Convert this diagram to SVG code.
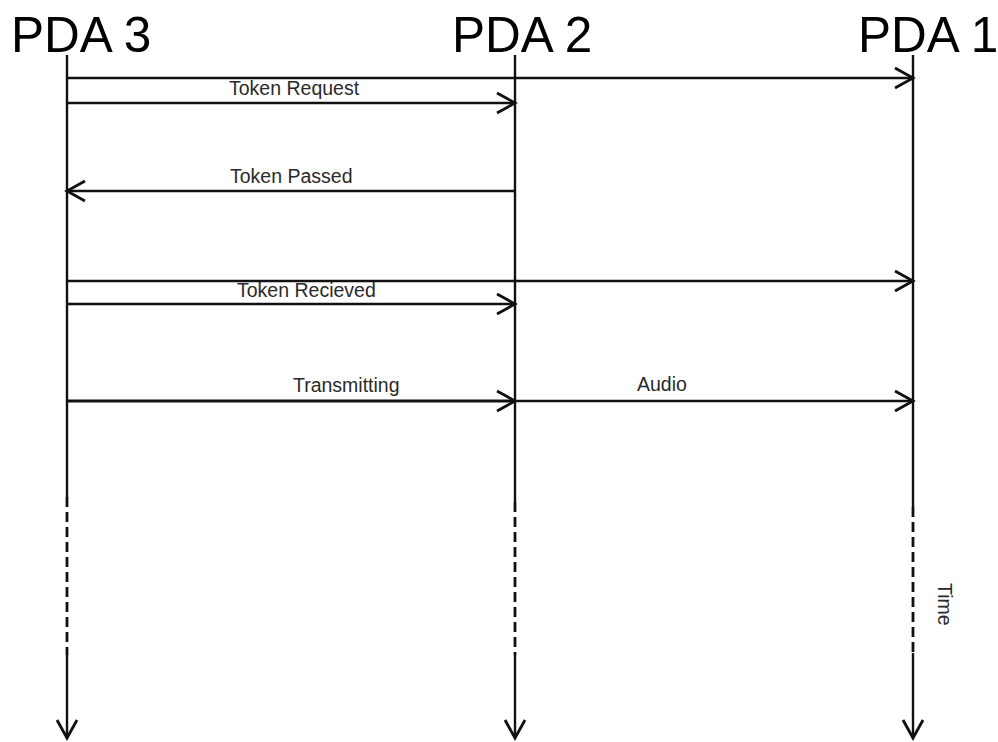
<svg xmlns="http://www.w3.org/2000/svg" width="998" height="742" viewBox="0 0 998 742">
<style>
.title{font-family:"Liberation Sans",Arial,sans-serif;font-size:49.5px;fill:#000}
.lbl{font-family:"Liberation Sans",Arial,sans-serif;font-size:19.5px;fill:#2a2a2a}
.life{stroke:#111;stroke-width:2.4;fill:none}
.dash{stroke:#111;stroke-width:2.8;fill:none;stroke-dasharray:10 5}
.msg{stroke:#111;stroke-width:2.4;fill:none;marker-end:url(#ah)}
.msgb{stroke:#111;stroke-width:3.2;fill:none;marker-end:url(#ah)}
</style>
<defs>
<marker id="ah" markerUnits="userSpaceOnUse" markerWidth="24" markerHeight="24" viewBox="-20 -12 24 24" refX="0" refY="0" orient="auto">
<path d="M-18,-10 L0,0 L-18,10" fill="none" stroke="#111" stroke-width="2.8"/>
</marker>
</defs>
<rect width="998" height="742" fill="#fff"/>
<g id="pda3">
<text class="title" x="11" y="52">PDA 3</text>
<path class="life" d="M67,55 V497"/>
<path class="dash" d="M67,497 V655"/>
<path class="msg" d="M67,655 V738"/>
</g>
<g id="pda2">
<text class="title" x="452" y="52">PDA 2</text>
<path class="life" d="M515,55 V502"/>
<path class="dash" d="M515,502 V655"/>
<path class="msg" d="M515,655 V738"/>
</g>
<g id="pda1">
<text class="title" x="858" y="52">PDA 1</text>
<path class="life" d="M913,55 V507"/>
<path class="dash" d="M913,507 V653"/>
<path class="msg" d="M913,653 V738"/>
<text class="lbl" transform="translate(938,583) rotate(90)">Time</text>
</g>
<g id="connectors">
<path class="msg" d="M67,78 H913"/>
<path class="msg" d="M67,103 H515"/>
<text class="lbl" x="229" y="95">Token Request</text>
<path class="msg" d="M515,191 H67"/>
<text class="lbl" x="230" y="183">Token Passed</text>
<path class="msg" d="M67,281 H913"/>
<path class="msg" d="M67,304 H515"/>
<text class="lbl" x="237" y="297">Token Recieved</text>
<path class="msgb" d="M67,401 H515"/>
<text class="lbl" x="293" y="392">Transmitting</text>
<path class="msg" d="M515,401 H913"/>
<text class="lbl" x="637" y="391">Audio</text>
</g>
</svg>
